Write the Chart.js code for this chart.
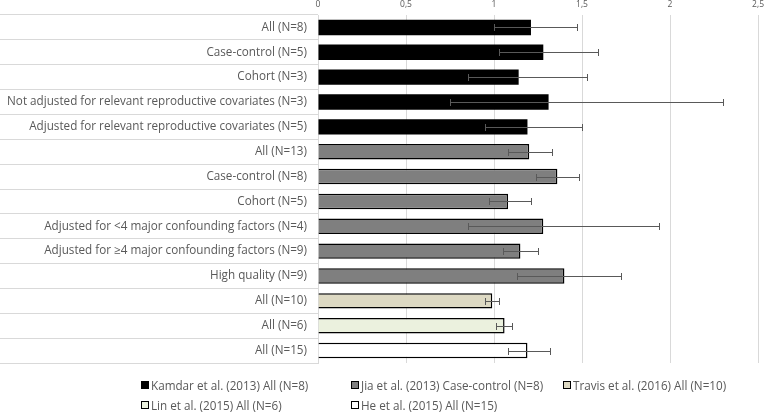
<!DOCTYPE html>
<html>
<head>
<meta charset="utf-8">
<script src="https://cdn.jsdelivr.net/npm/chart.js@4"></script>
<style>
  html, body { margin: 0; padding: 0; background: #fff; }
  #wrap { position: relative; width: 769px; height: 413px; }
  #legend {
    position: absolute; left: 141px; top: 377px;
    display: grid; grid-template-columns: 210px 212px auto;
    row-gap: 4px;
    font-family: 'Open Sans', sans-serif; font-size: 11.7px; color: #595959;
  }
  #legend div { display: flex; align-items: center; height: 16px; white-space: nowrap; }
  #legend span.box {
    display: inline-block; width: 6px; height: 6px; margin-right: 2px;
    border: 1px solid #000;
  }
</style>
</head>
<body>
<div id="wrap">
  <canvas id="chart"></canvas>
  <div id="legend"></div>
</div>
<script>
// data (odds ratio with 95% CI)
const categories = [
    'All (N=8)',
    'Case-control (N=5)',
    'Cohort (N=3)',
    'Not adjusted for relevant reproductive covariates (N=3)',
    'Adjusted for relevant reproductive covariates (N=5)',
    'All (N=13)',
    'Case-control (N=8)',
    'Cohort (N=5)',
    'Adjusted for <4 major confounding factors (N=4)',
    'Adjusted for \u22654 major confounding factors (N=9)',
    'High quality (N=9)',
    'All (N=10)',
    'All (N=6)',
    'All (N=15)'
];
const estimates = [1.21, 1.28, 1.14, 1.31, 1.19, 1.20, 1.36, 1.08, 1.28, 1.15, 1.40, 0.99, 1.06, 1.19];
const ciLower   = [1.00, 1.03, 0.85, 0.75, 0.95, 1.08, 1.24, 0.97, 0.85, 1.05, 1.13, 0.95, 1.01, 1.08];
const ciUpper   = [1.47, 1.59, 1.53, 2.30, 1.50, 1.33, 1.48, 1.21, 1.94, 1.25, 1.72, 1.03, 1.10, 1.32];
// which study each row belongs to
const rowSeries = [0, 0, 0, 0, 0, 1, 1, 1, 1, 1, 1, 2, 3, 4];

const seriesNames = [
    'Kamdar et al. (2013) All (N=8)',
    'Jia et al. (2013) Case-control (N=8)',
    'Travis et al. (2016) All (N=10)',
    'Lin et al. (2015) All (N=6)',
    'He et al. (2015) All (N=15)'
];
const seriesColors = ['#000000', '#7f7f7f', '#ddd9c3', '#ebf1de', '#ffffff'];

const xTicks = ['0', '0,5', '1', '1,5', '2', '2,5'];

Chart.defaults.font.family = "'Open Sans', sans-serif";
Chart.defaults.color = '#595959';

// --- error bars drawn on top of the bars ---
const errorBars = {
    id: 'errorBars',
    afterDatasetsDraw(chart) {
        const { ctx, scales: { x, y } } = chart;
        ctx.save();
        ctx.strokeStyle = '#595959';
        ctx.lineWidth = 1;
        ciLower.forEach((lo, i) => {
            const yy = Math.round(y.getPixelForValue(i)) + 0.5;
            const x1 = Math.round(x.getPixelForValue(lo)) + 0.5;
            const x2 = Math.round(x.getPixelForValue(ciUpper[i])) + 0.5;
            ctx.beginPath();
            ctx.moveTo(x1, yy); ctx.lineTo(x2, yy);
            ctx.moveTo(x1, yy - 3.5); ctx.lineTo(x1, yy + 3.5);
            ctx.moveTo(x2, yy - 3.5); ctx.lineTo(x2, yy + 3.5);
            ctx.stroke();
        });
        ctx.restore();
    }
};

const datasets = seriesNames.map((name, s) => ({
    label: name,
    data: estimates.map((v, i) => rowSeries[i] === s ? v : null),
    backgroundColor: seriesColors[s],
    borderColor: '#000000',
    borderWidth: s === 0 ? 0 : 1.5,
    barPercentage: 0.62,
    categoryPercentage: 1,
    grouped: false
}));

new Chart(document.getElementById('chart'), {
    type: 'bar',
    data: { labels: categories, datasets: datasets },
    options: {
        indexAxis: 'y',
        responsive: true,
        maintainAspectRatio: false,
        animation: false,
        layout: { padding: { left: 0, right: 5, top: 0, bottom: 50 } },
        plugins: {
            legend: { display: false },
            tooltip: { enabled: false }
        },
        scales: {
            x: {
                position: 'top',
                min: 0,
                max: 2.5,
                ticks: {
                    stepSize: 0.5,
                    padding: 5,
                    font: { size: 8.5 },
                    callback: (v, i) => xTicks[i]
                },
                grid: { color: '#d9d9d9', drawTicks: false },
                border: { display: false },
                afterFit: (scale) => { scale.height = 15; }
            },
            y: {
                grid: {
                    offset: true,
                    drawOnChartArea: false,
                    tickLength: 318,
                    color: '#d9d9d9'
                },
                border: { color: '#d9d9d9' },
                ticks: { padding: -307, font: { size: 11.7 } },
                afterFit: (scale) => { scale.width = 318; }
            }
        }
    },
    plugins: [errorBars]
});

// legend laid out in columns like the original
const legendEl = document.getElementById('legend');
seriesNames.forEach((name, s) => {
    const item = document.createElement('div');
    item.innerHTML = '<span class="box" style="background:' + seriesColors[s] + '"></span>' + name;
    legendEl.appendChild(item);
});
</script>
</body>
</html>
